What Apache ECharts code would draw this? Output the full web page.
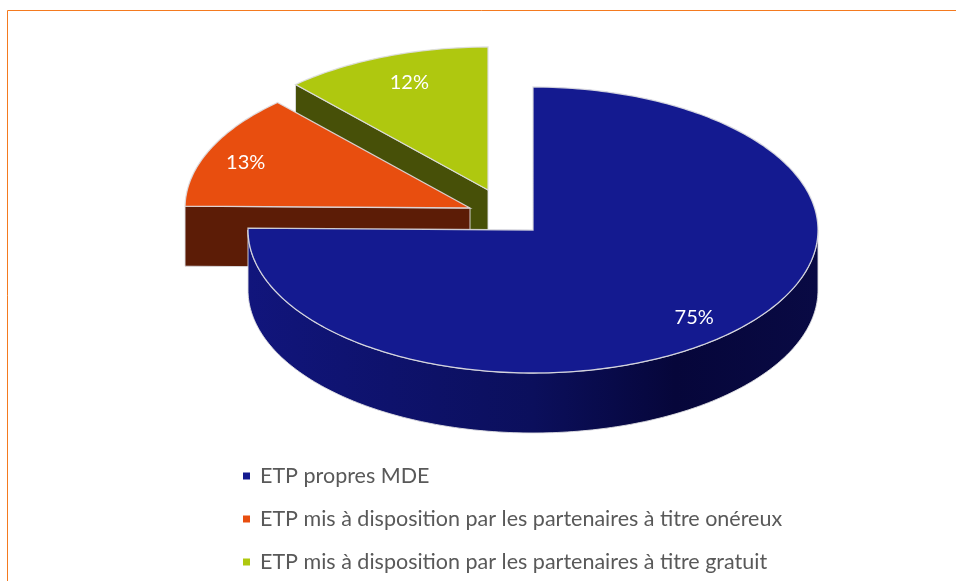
<!DOCTYPE html>
<html>
<head>
<meta charset="utf-8">
<style>
  html, body { margin: 0; padding: 0; background: #fff; }
  #chart { width: 956px; height: 581px; }
</style>
<script src="https://cdn.jsdelivr.net/npm/echarts@6/dist/echarts.min.js"></script>
</head>
<body>
<div id="chart"></div>
<script>
const categories = [
  'ETP propres MDE',
  'ETP mis à disposition par les partenaires à titre onéreux',
  'ETP mis à disposition par les partenaires à titre gratuit'
]
const shares = [75.2, 13.0, 11.8]
const shareLabels = ['75%', '13%', '12%']

const topColors = ['#141a90', '#e84e0f', '#afc80f']
const wallColors = ['#0c1060', '#5c1c06', '#475008']
const centers = [[533, 230], [470, 208], [488, 190]]
const labelNudges = [[-3, 4], [-11, 2], [6, 2]]
const seriesZ = [4, 3, 2]

const radiusX = 285
const radiusY = 143
const depth = 60
const edgeColor = 'rgba(222, 222, 226, 0.9)'

const total = shares.reduce((a, b) => a + b, 0)

// angles run clockwise from 12 o'clock, same as the original pie
function sliceAngles(index) {
  const before = shares.slice(0, index).reduce((a, b) => a + b, 0)
  return [before / total * 360, (before + shares[index]) / total * 360]
}

function rimPoint(center, deg, drop) {
  const rad = deg * Math.PI / 180
  return [
    center[0] + radiusX * Math.sin(rad),
    center[1] - radiusY * Math.cos(rad) + (drop || 0)
  ]
}

function rimArc(center, from, to, drop) {
  const pts = []
  const steps = Math.max(2, Math.ceil(Math.abs(to - from)))
  for (let i = 0; i <= steps; i++) {
    pts.push(rimPoint(center, from + (to - from) * i / steps, drop))
  }
  return pts
}

function wallStyle(index) {
  if (index === 0) {
    return new echarts.graphic.LinearGradient(0, 0, 1, 0, [
      { offset: 0, color: '#11157c' },
      { offset: 0.5, color: '#0b0f5c' },
      { offset: 0.75, color: '#06063a' },
      { offset: 1, color: '#090a44' }
    ])
  }
  return wallColors[index]
}

function renderSlice(index) {
  return function() {
    const center = centers[index]
    const angles = sliceAngles(index)
    const start = angles[0]
    const end = angles[1]
    const children = []
    const wall = { fill: wallStyle(index), stroke: edgeColor, lineWidth: 1 }

    // flat cut face, only seen when it turns toward the viewer
    if (start > 180 && start < 360) {
      const tip = rimPoint(center, start)
      children.push({
        type: 'polygon',
        shape: { points: [center, tip, [tip[0], tip[1] + depth], [center[0], center[1] + depth]] },
        style: wall
      })
    }

    // outer curved wall, front half of the ellipse
    const wallFrom = Math.max(start, 90)
    const wallTo = Math.min(end, 270)
    if (wallTo > wallFrom) {
      children.push({
        type: 'polygon',
        shape: { points: rimArc(center, wallFrom, wallTo, 0).concat(rimArc(center, wallTo, wallFrom, depth)) },
        style: wall
      })
    }

    children.push({
      type: 'polygon',
      shape: { points: [center].concat(rimArc(center, start, end, 0)) },
      style: { fill: topColors[index], stroke: edgeColor, lineWidth: 1.3 }
    })

    const rad = (start + end) / 2 * Math.PI / 180
    children.push({
      type: 'text',
      x: center[0] + radiusX * 0.82 * Math.sin(rad) + labelNudges[index][0],
      y: center[1] - radiusY * 0.82 * Math.cos(rad) + labelNudges[index][1],
      z2: 10,
      style: {
        text: shareLabels[index],
        fill: '#fff',
        font: '20px Lato, "Open Sans", sans-serif',
        align: 'center',
        verticalAlign: 'middle'
      }
    })
    return { type: 'group', children: children }
  }
}

const chart = echarts.init(document.getElementById('chart'), null, { renderer: 'canvas' })
chart.setOption({
  animation: false,
  color: topColors,
  legend: {
    orient: 'vertical',
    left: 243,
    top: 465,
    padding: 0,
    data: categories,
    icon: 'rect',
    itemWidth: 7,
    itemHeight: 7,
    itemGap: 21,
    selectedMode: false,
    textStyle: {
      color: '#595959',
      fontFamily: 'Lato, "Open Sans", sans-serif',
      fontSize: 21.5,
      padding: [0, 0, 0, 5]
    }
  },
  graphic: [{
    type: 'polyline',
    silent: true,
    shape: { points: [[7.5, 581], [7.5, 10.5], [956, 10.5]] },
    style: { fill: null, stroke: '#f47a1f', lineWidth: 1 }
  }],
  series: categories.map((name, i) => ({
    type: 'custom',
    name: name,
    coordinateSystem: 'none',
    z: seriesZ[i],
    silent: true,
    clip: false,
    itemStyle: { color: topColors[i] },
    data: [shares[i]],
    renderItem: renderSlice(i)
  }))
})
</script>
</body>
</html>
